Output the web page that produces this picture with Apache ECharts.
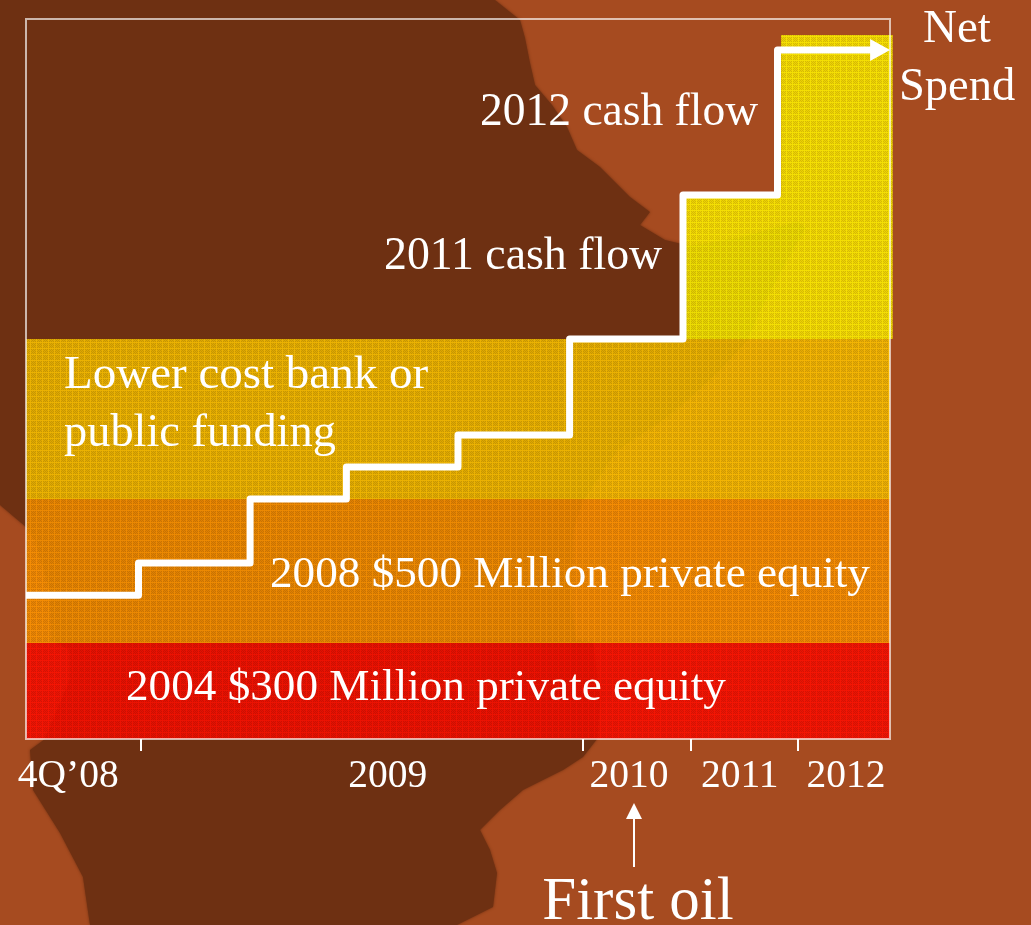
<!DOCTYPE html>
<html><head><meta charset="utf-8">
<style>html,body{margin:0;padding:0;background:#A64B20}#c{width:1031px;height:925px}</style>
<script src="https://cdn.jsdelivr.net/npm/echarts@6/dist/echarts.min.js"></script>
</head><body><div id="c"></div>
<script>
// x unit: months-equivalent of the slide's schematic time axis; y unit: $ million (estimated)
const stepX = [0, 12.5, 24.9, 35.6, 48, 60.4, 73, 83.5, 94.9];
const spend = [449, 550, 750, 850, 950, 1250, 1700, 2153, 2153];
const bandNames = ['2004 equity', '2008 equity', 'Bank or public', '2011 cash flow', '2012 cash flow'];
const bandX0 = [0, 0, 0, 73.1, 83.9];
const bandX1 = [96, 96, 96, 96.3, 96.3];
const bandY0 = [0, 300, 750, 1250, 1700];
const bandY1 = [300, 750, 1250, 1700, 2200];
const bandColors = ['#F20D00', '#EE8B00', '#ECB800', '#F4E400', '#F4E400'];
const tickX = [12.78, 61.9, 73.85, 85.78];
const labelX = [4.7, 40.2, 67, 79.3, 91.1];
const tickLabels = ['4Q\u201908', '2009', '2010', '2011', '2012'];

const FONT = '"Liberation Serif", serif';
function hex(c){return [1,3,5].map(i=>parseInt(c.substr(i,2),16));}
function tile(color){
  const cv=document.createElement('canvas');cv.width=cv.height=6;
  const g=cv.getContext('2d');const [r,gg,b]=hex(color);
  for(let y=0;y<6;y++)for(let x=0;x<6;x++){
    let k=1.02;
    if(x===0||y===0)k=1.08;
    else if((x+y)%2===0)k=0.9;
    g.fillStyle=`rgba(${Math.min(255,r*k)|0},${Math.min(255,gg*k)|0},${Math.min(255,b*k)|0},0.87)`;
    g.fillRect(x,y,1,1);
  }
  return {image:cv,repeat:'repeat'};
}
const mapShape=[[0,0],[495,0],[520,20],[525,38],[530,63],[535,85],[552,105],[567,127],[577,150],[600,167],[630,197],[650,212],[640,225],[665,240],[690,246],[740,238],[797,222],[805,228],[783,267],[760,310],[747,340],[717,373],[667,417],[617,450],[600,475],[583,500],[573,530],[570,600],[576,640],[593,643],[600,700],[597,739],[583,757],[563,770],[523,790],[500,810],[480,830],[490,850],[497,873],[493,907],[457,925],[90,925],[83,877],[60,833],[33,790],[30,750],[45,739],[70,680],[70,650],[52,640],[50,590],[35,540],[26,527],[0,505]];

function txt(s,x,y,size,align){
  return {type:'text',x,y,z:20,silent:true,style:{text:s,fill:'#fff',font:`${size}px ${FONT}`,textAlign:align||'left',textVerticalAlign:'middle'}};
}
const graphics=[
  {type:'polygon',z:-10,silent:true,shape:{points:mapShape},style:{fill:'#6E3012',shadowBlur:3,shadowColor:'#6E3012'}},
  txt('Net',957,30,47,'center'),
  txt('Spend',957,88,46.5,'center'),
  txt('2012 cash flow',480,113,45.5),
  txt('2011 cash flow',384,257,45.8),
  txt('Lower cost bank or',64,376,47),
  txt('public funding',64,434,46.4),
  txt('2008 $500 Million private equity',270,575,45.2),
  txt('2004 $300 Million private equity',126,688,45.2),
  txt('First oil',638,903,61,'center'),
  {type:'line',z:20,silent:true,shape:{x1:634,y1:818,x2:634,y2:867},style:{stroke:'#fff',lineWidth:2}},
  {type:'polygon',z:20,silent:true,shape:{points:[[634,803],[626,819],[642,819]]},style:{fill:'#fff'}}
];
const bandData=bandNames.map((n,i)=>[bandX0[i],bandX1[i],bandY0[i],bandY1[i],i]);
const patterns=bandColors.map(tile);
const option={
  backgroundColor:'#A64B20',animation:false,
  grid:{left:26,right:141,top:19,bottom:186,show:true,borderColor:'rgba(255,255,255,0.65)',borderWidth:2,backgroundColor:'transparent',z:5},
  xAxis:{type:'value',min:0,max:96,offset:4,splitLine:{show:false},axisLine:{show:false},
    axisTick:{show:true,length:12,inside:false,customValues:tickX,lineStyle:{color:'#fff',width:2}},
    axisLabel:{show:true,customValues:labelX,color:'#fff',fontFamily:FONT,fontSize:39.5,margin:14,hideOverlap:false,
      formatter:v=>tickLabels[labelX.indexOf(v)]}},
  yAxis:{type:'value',min:0,max:2250,show:false},
  graphic:{elements:graphics},
  series:[
    {type:'custom',name:'Funding',z:1,clip:false,coordinateSystem:'cartesian2d',silent:true,
     encode:{x:[0,1],y:[2,3]},data:bandData,
     renderItem:(p,api)=>{
       const a=api.coord([api.value(0),api.value(3)]),b=api.coord([api.value(1),api.value(2)]);
       return {type:'rect',shape:{x:a[0],y:a[1],width:b[0]-a[0],height:b[1]-a[1]},style:{fill:patterns[api.value(4)]}};
     }},
    {type:'line',name:'Net Spend',z:10,step:'end',clip:false,silent:true,
     data:stepX.map((x,i)=>[x,spend[i]]),
     lineStyle:{color:'#fff',width:7,join:'round'},itemStyle:{color:'#fff'},
     symbol:(v,p)=>p.dataIndex===stepX.length-1?'triangle':'none',
     symbolRotate:-90,symbolSize:[22,20],showSymbol:true,showAllSymbol:true}
  ]
};
echarts.init(document.getElementById('c')).setOption(option);
</script></body></html>
